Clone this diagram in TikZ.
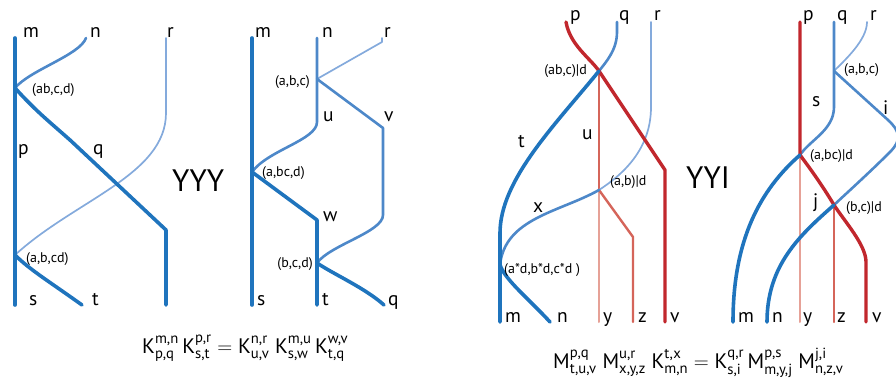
\documentclass[tikz,border=0pt]{standalone}
\usepackage{fontspec}
\usepackage{amsmath}
\setmainfont{PT Sans}
\definecolor{dblue}{HTML}{1F74BD}
\definecolor{mblue}{HTML}{4D88C9}
\definecolor{lblue}{HTML}{84AADC}
\definecolor{dred}{HTML}{C1272D}
\definecolor{salm}{HTML}{D5655A}
\definecolor{lsalm}{HTML}{E6A197}
\tikzset{
  thickb/.style={draw=dblue,line width=3.6pt},
  medb/.style={draw=mblue,line width=2.6pt},
  thinb/.style={draw=lblue,line width=1.7pt},
  redl/.style={draw=dred,line width=3.4pt},
  salml/.style={draw=salm,line width=2.4pt},
  lsalml/.style={draw=lsalm,line width=2pt},
  lab/.style={font=\fontsize{19.5}{20}\selectfont,inner sep=0pt,anchor=base west},
  slab/.style={font=\fontsize{14}{15}\selectfont,inner sep=0pt,anchor=base west},
  big/.style={font=\fontsize{31}{32}\selectfont,inner sep=0pt,anchor=base west},
  eq/.style={font=\fontsize{21}{24}\selectfont,inner sep=0pt,anchor=base west},
}
\newcommand\Tn[3]{\text{#1}^{\text{#2}}_{\text{#3}}}
\begin{document}
\begin{tikzpicture}[x=1pt,y=-1pt,line cap=round,line join=round]
\useasboundingbox (0,0) rectangle (896,379);
\clip (0,0) rectangle (896,379);
% ---------------- Diagram 1 (YYY left)
\coordinate (a-m) at (15,38);
\coordinate (a-s) at (15,305);
\coordinate (a-n) at (86,38);
\coordinate (a-r) at (166,38);
\coordinate (a-rb) at (166,113);
\coordinate (a-J1) at (15,88);
\coordinate (a-J2) at (15,255);
\coordinate (a-qc) at (166,230);
\coordinate (a-qe) at (166,305);
\coordinate (a-t) at (82,305);
\draw[thinb] (a-r) -- (a-rb) .. controls (166,175) and (75,200) .. (a-J2);
\draw[medb] (a-n) .. controls (80,55) and (30,70) .. (a-J1);
\draw[thickb] (a-J1) .. controls (35,110) and (45,118) .. (70,140) -- (a-qc) -- (a-qe);
\draw[thickb] (a-J2) .. controls (30,270) and (50,282) .. (a-t);
\draw[thickb] (a-m) -- (a-s);
\node[lab] (a-lm) at (23,38) {m};
\node[lab] (a-ln) at (90,38) {n};
\node[lab] (a-lr) at (167,38) {r};
\node[slab] (a-l1) at (32,94) {(ab,c,d)};
\node[lab] (a-lp) at (18,155) {p};
\node[lab] (a-lq) at (93,155) {q};
\node[big] (a-Y) at (172,192) {YYY};
\node[slab] (a-l2) at (26,262) {(a,b,cd)};
\node[lab] (a-ls) at (29,305) {s};
\node[lab] (a-lt) at (92,305) {t};
% ---------------- Diagram 2
\coordinate (b-m) at (252,38);
\coordinate (b-s) at (252,305);
\coordinate (b-n) at (317,38);
\coordinate (b-nb) at (317,122);
\coordinate (b-r) at (382,38);
\coordinate (b-rb) at (382,42);
\coordinate (b-J1) at (317,79);
\coordinate (b-vt) at (383,128);
\coordinate (b-vb) at (383,215);
\coordinate (b-J2) at (252,172);
\coordinate (b-wc) at (317,220);
\coordinate (b-J3) at (317,263);
\coordinate (b-t) at (317,305);
\coordinate (b-q) at (384,305);
\draw[thinb] (b-r) -- (b-rb) -- (b-J1);
\draw[medb] (b-n) -- (b-nb) .. controls (317,140) and (268,150) .. (b-J2);
\draw[medb] (b-J1) -- (b-vt) -- (b-vb) .. controls (383,232) and (330,245) .. (b-J3);
\draw[thickb] (b-J2) -- (b-wc) -- (b-t);
\draw[thickb] (b-J3) .. controls (335,275) and (365,288) .. (b-q);
\draw[thickb] (b-m) -- (b-s);
\node[lab] (b-lm) at (255,38) {m};
\node[lab] (b-ln) at (322,38) {n};
\node[lab] (b-lr) at (384,38) {r};
\node[slab,anchor=base east] (b-l1) at (310,86) {(a,b,c)};
\node[lab] (b-lu) at (323,122) {u};
\node[lab] (b-lv) at (384,122) {v};
\node[slab] (b-l2) at (262,177) {(a,bc,d)};
\node[lab] (b-lw) at (323,222) {w};
\node[slab,anchor=base east] (b-l3) at (313,267) {(b,c,d)};
\node[lab] (b-ls) at (257,305) {s};
\node[lab] (b-lt) at (322,305) {t};
\node[lab] (b-lq) at (388,305) {q};
% equation 1
\node[eq] (eq1) at (142,353) {$\Tn{K}{m,n}{p,q}\,\Tn{K}{p,r}{s,t} = \Tn{K}{n,r}{u,v}\;\Tn{K}{m,u}{s,w}\,\Tn{K}{w,v}{t,q}$};
% ---------------- Diagram 3
\coordinate (c-p) at (566,22);
\coordinate (c-q) at (617,22);
\coordinate (c-qb) at (617,32);
\coordinate (c-r) at (651,22);
\coordinate (c-rb) at (651,107);
\coordinate (c-J1) at (599,71);
\coordinate (c-vc) at (665,170);
\coordinate (c-v) at (665,322);
\coordinate (c-tb) at (500,233);
\coordinate (c-m) at (500,322);
\coordinate (c-J2) at (599,190);
\coordinate (c-y) at (599,322);
\coordinate (c-zc) at (633,237);
\coordinate (c-z) at (633,322);
\coordinate (c-J3) at (500,265);
\coordinate (c-n) at (550,322);
\draw[lsalml] (c-J2) -- (c-y);
\draw[salml] (c-J1) -- (c-J2);
\draw[salml] (c-J2) -- (c-zc) -- (c-z);
\draw[thinb] (c-r) -- (c-rb) .. controls (651,150) and (622,175) .. (c-J2);
\draw[medb] (c-J2) .. controls (560,212) and (505,218) .. (c-J3);
\draw[medb] (c-q) -- (c-qb) .. controls (617,50) and (606,62) .. (c-J1);
\draw[redl] (c-p) .. controls (570,45) and (590,58) .. (c-J1) -- (c-vc) -- (c-v);
\draw[thickb] (c-J1) .. controls (555,125) and (500,180) .. (c-tb) -- (c-m);
\draw[thickb] (c-J3) .. controls (505,280) and (530,300) .. (c-n);
\node[lab] (c-lp) at (570,21) {p};
\node[lab] (c-lq) at (619,21) {q};
\node[lab] (c-lr) at (654,21) {r};
\node[slab,anchor=base east] (c-l1) at (587,75) {(ab,c)|d};
\node[lab] (c-lt) at (518,148) {t};
\node[lab] (c-lu) at (582,140) {u};
\node[slab] (c-l2) at (610,186) {(a,b)|d};
\node[lab] (c-lx) at (533,213) {x};
\node[slab] (c-l3) at (504,273) {(a*d,b*d,c*d )};
\node[lab] (c-lm) at (505,322) {m};
\node[lab] (c-ln) at (557,322) {n};
\node[lab] (c-ly) at (603,322) {y};
\node[lab] (c-lz) at (638,322) {z};
\node[lab] (c-lv) at (670,322) {v};
\node[big] (c-Y) at (686,189) {YYI};
% ---------------- Diagram 4
\coordinate (d-p) at (800,22);
\coordinate (d-J1) at (800,155);
\coordinate (d-y) at (800,322);
\coordinate (d-q) at (834,22);
\coordinate (d-J0) at (834,71);
\coordinate (d-qb) at (834,107);
\coordinate (d-r) at (867,22);
\coordinate (d-ic) at (888,120);
\coordinate (d-ib) at (890,152);
\coordinate (d-J2) at (834,205);
\coordinate (d-vc) at (866,262);
\coordinate (d-v) at (866,322);
\coordinate (d-m) at (733,322);
\coordinate (d-n) at (767,322);
\coordinate (d-z) at (834,322);
\draw[lsalml] (d-J1) -- (d-y);
\draw[salml] (d-J2) -- (d-z);
\draw[thinb] (d-r) .. controls (867,40) and (845,60) .. (d-J0);
\draw[medb] (d-q) -- (d-J0) -- (d-qb) .. controls (834,130) and (810,140) .. (d-J1);
\draw[medb] (d-J0) -- (d-ic) .. controls (900,131) and (902,140) .. (d-ib) .. controls (870,172) and (850,190) .. (d-J2);
\draw[redl] (d-p) -- (d-J1) .. controls (815,175) and (825,190) .. (d-J2) .. controls (845,222) and (866,245) .. (d-vc) -- (d-v);
\draw[thickb] (d-J1) .. controls (760,190) and (733,240) .. (d-m);
\draw[thickb] (d-J2) .. controls (800,235) and (767,265) .. (d-n);
\node[lab] (d-lp) at (803,21) {p};
\node[lab] (d-lq) at (837,21) {q};
\node[lab] (d-lr) at (870,21) {r};
\node[slab] (d-l1) at (844,74) {(a,b,c)};
\node[lab] (d-ls) at (812,107) {s};
\node[lab] (d-li) at (883,115) {i};
\node[slab] (d-l2) at (810,160) {(a,bc)|d};
\node[lab] (d-lj) at (813,208) {j};
\node[slab] (d-l3) at (846,212) {(b,c)|d};
\node[lab] (d-lm) at (738,322) {m};
\node[lab] (d-ln) at (772,322) {n};
\node[lab] (d-ly) at (803,322) {y};
\node[lab] (d-lz) at (837,322) {z};
\node[lab] (d-lv) at (872,322) {v};
% equation 2
\node[eq] (eq2) at (553,368) {$\Tn{M}{p,q}{t,u,v}\;\Tn{M}{u,r}{x,y,z}\;\Tn{K}{t,x}{m,n} = \Tn{K}{q,r}{s,i}\,\Tn{M}{p,s}{m,y,j}\;\Tn{M}{j,i}{n,z,v}$};
\end{tikzpicture}
\end{document}
